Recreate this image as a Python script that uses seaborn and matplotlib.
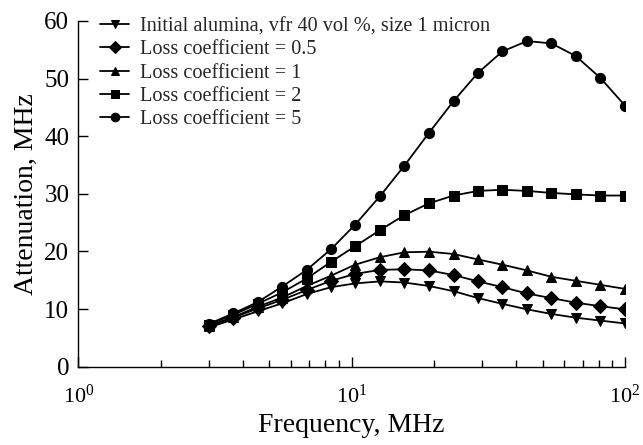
import matplotlib
matplotlib.use("Agg")
import matplotlib.pyplot as plt
import seaborn as sns
import pandas as pd
from matplotlib.ticker import LogLocator, NullFormatter

freq = [3.0, 3.69, 4.53, 5.57, 6.85, 8.41, 10.3, 12.7, 15.6, 19.2,
        23.6, 29.0, 35.6, 43.8, 53.8, 66.1, 81.3, 100.0]

initial = [6.8, 8.2, 9.6, 11.0, 12.6, 13.8, 14.45, 14.8, 14.6, 14.0,
           13.1, 11.9, 10.9, 9.95, 9.15, 8.5, 8.0, 7.5]
loss_05 = [7.0, 8.5, 10.1, 11.6, 13.3, 14.9, 16.1, 16.8, 16.9, 16.7,
           15.9, 14.8, 13.8, 12.7, 11.9, 11.1, 10.5, 9.95]
loss_1 = [7.1, 8.6, 10.4, 12.0, 14.0, 15.8, 17.7, 19.0, 19.85, 19.95,
          19.55, 18.6, 17.7, 16.7, 15.6, 14.9, 14.2, 13.5]
loss_2 = [7.3, 9.0, 10.9, 12.9, 15.3, 18.2, 20.9, 23.7, 26.3, 28.35,
          29.7, 30.5, 30.7, 30.5, 30.15, 29.9, 29.7, 29.7]
loss_5 = [7.4, 9.25, 11.2, 13.9, 16.8, 20.4, 24.65, 29.6, 34.9, 40.6,
          46.1, 51.0, 54.7, 56.5, 56.1, 53.9, 50.1, 45.3]

labels = ["Initial alumina, vfr 40 vol %, size 1 micron",
          "Loss coefficient = 0.5",
          "Loss coefficient = 1",
          "Loss coefficient = 2",
          "Loss coefficient = 5"]
series = [initial, loss_05, loss_1, loss_2, loss_5]
marker_list = ["v", "D", "^", "s", "o"]

rows = []
for lab, vals in zip(labels, series):
    for f, v in zip(freq, vals):
        rows.append({"Frequency": f, "Attenuation": v, "Series": lab})
df = pd.DataFrame(rows)

sns.set_theme(style="ticks")
plt.rcParams["font.family"] = ["Liberation Serif", "DejaVu Serif"]
plt.rcParams["mathtext.fontset"] = "custom"
plt.rcParams["mathtext.rm"] = "Liberation Serif"
plt.rcParams["mathtext.it"] = "Liberation Serif:italic"
plt.rcParams["mathtext.default"] = "regular"

fig = plt.figure(figsize=(6.43, 4.45), dpi=100)
ax = fig.add_axes([0.1218, 0.176, 0.8502, 0.777])

sns.lineplot(data=df, x="Frequency", y="Attenuation", hue="Series", style="Series",
             hue_order=labels, style_order=labels,
             palette=["black"] * 5, markers=dict(zip(labels, marker_list)),
             dashes=False, linewidth=1.3, markersize=7.3, markeredgecolor="black",
             ax=ax)

ax.set_xscale("log")
ax.set_xlim(1, 100)
ax.set_ylim(0, 60)
ax.set_yticks([0, 10, 20, 30, 40, 50, 60])
ax.xaxis.set_major_locator(LogLocator(base=10, numticks=10))
ax.xaxis.set_minor_locator(LogLocator(base=10, subs=range(2, 10), numticks=20))
ax.xaxis.set_minor_formatter(NullFormatter())

for s in ["top", "right"]:
    ax.spines[s].set_visible(False)
for s in ["left", "bottom"]:
    ax.spines[s].set_color("black")
    ax.spines[s].set_linewidth(1.0)

ax.tick_params(axis="both", which="major", direction="in", length=7, width=1.0,
               colors="black")
ax.tick_params(axis="y", which="major", labelsize=18, pad=6.5)
ax.tick_params(axis="x", which="major", labelsize=16, pad=13)
ax.tick_params(axis="x", which="minor", direction="in", length=5, width=1.0, colors="black")

ax.set_xlabel("Frequency, MHz", fontsize=20, color="black", labelpad=4)
ax.set_ylabel("Attenuation, MHz", fontsize=20, color="black", labelpad=4)

leg = ax.legend(loc="upper left", bbox_to_anchor=(0.025, 1.035), frameon=False,
                fontsize=14.6, handlelength=1.45, handletextpad=0.5,
                labelspacing=0.2, borderaxespad=0.0, markerscale=0.85)

fig.savefig("out.png", dpi=100)
